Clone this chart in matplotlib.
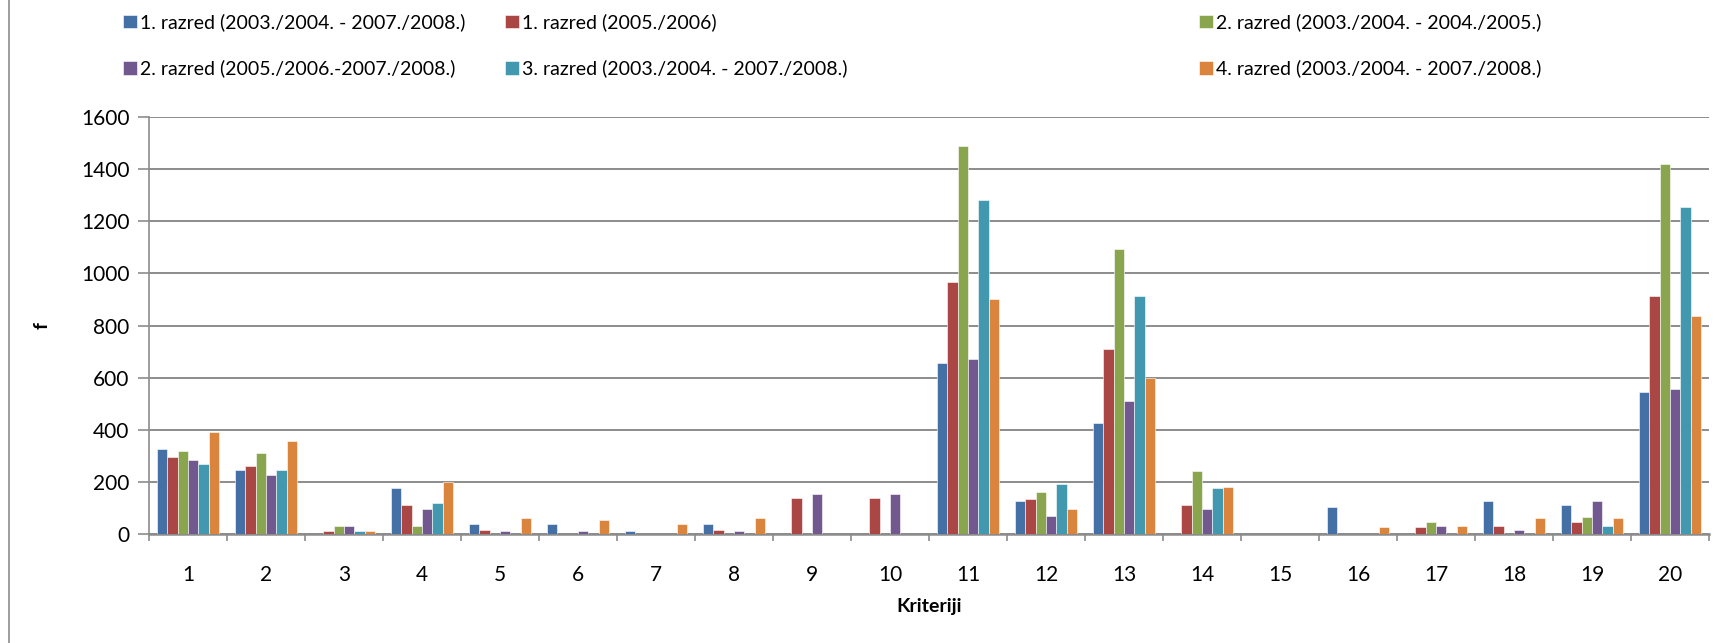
import matplotlib
matplotlib.use("Agg")
import numpy as np
import matplotlib.pyplot as plt
from matplotlib.lines import Line2D

plt.rcParams['font.family'] = ['Lato', 'DejaVu Sans']

kriteriji = [str(i) for i in range(1, 21)]

labels = ['1. razred (2003./2004. - 2007./2008.)',
          '1. razred (2005./2006)',
          '2. razred (2003./2004. - 2004./2005.)',
          '2. razred (2005./2006.-2007./2008.)',
          '3. razred (2003./2004. - 2007./2008.)',
          '4. razred (2003./2004. - 2007./2008.)']

r1_0308 = [325, 245, 0, 175, 40, 40, 10, 40, 0, 0, 655, 125, 425, 0, 0, 105, 0, 125, 110, 545]
r1_0506 = [295, 260, 10, 110, 15, 0, 0, 15, 140, 140, 965, 135, 710, 110, 0, 0, 25, 30, 45, 915]
r2_0305 = [318, 310, 30, 30, 0, 0, 0, 0, 0, 0, 1490, 160, 1095, 240, 0, 0, 45, 0, 65, 1420]
r2_0508 = [283, 225, 30, 95, 10, 10, 0, 10, 155, 155, 672, 68, 510, 95, 0, 0, 30, 15, 125, 555]
r3_0308 = [268, 245, 10, 118, 0, 0, 0, 0, 0, 0, 1280, 190, 914, 175, 0, 0, 0, 0, 30, 1255]
r4_0308 = [390, 355, 10, 200, 60, 55, 40, 60, 0, 0, 900, 95, 598, 180, 0, 25, 30, 60, 60, 835]

series = [r1_0308, r1_0506, r2_0305, r2_0508, r3_0308, r4_0308]
colors = ['#4470A6', '#AA4643', '#89A54E', '#71588F', '#4198AF', '#DB843D']

W, H = 1715, 643
fig = plt.figure(figsize=(W / 100, H / 100), dpi=100)
ax = fig.add_axes([149 / W, 1 - 534 / H, (1709 - 149) / W, (534 - 117) / H])

x = np.arange(1, len(kriteriji) + 1)
w = 0.8 / len(series)
for i, (vals, c) in enumerate(zip(series, colors)):
    ax.bar(x + (i - 2.5) * w, vals, width=w, color=c, edgecolor='white',
           linewidth=0.4, label=labels[i], zorder=3)

ax.set_xlim(0.5, 20.5)
ax.set_ylim(0, 1600)
ax.set_yticks(range(0, 1601, 200))
ax.set_xticks(x)
ax.set_xticklabels(kriteriji)
ax.set_xticks(np.arange(0.5, 21, 1), minor=True)
ax.grid(axis='y', color='#8c8c8c', linewidth=1.4, zorder=0)
ax.tick_params(axis='y', length=8, color='#8c8c8c', width=1.2, labelsize=15, pad=6)
ax.tick_params(axis='x', which='major', length=0, labelsize=15, pad=22)
ax.tick_params(axis='x', which='minor', length=5, color='#8c8c8c', width=1.2)
for s in ['top', 'right']:
    ax.spines[s].set_visible(False)
ax.spines['left'].set_color('#8c8c8c')
ax.spines['left'].set_linewidth(1.2)
ax.spines['bottom'].set_color('#8c8c8c')
ax.spines['bottom'].set_linewidth(1.8)

ax.set_xlabel('Kriteriji', fontsize=14, fontweight='bold', labelpad=10)
ax.set_ylabel('f', fontsize=14, fontweight='bold', labelpad=22)

# legend: three columns placed like the original
handles, labs = ax.get_legend_handles_labels()
col_x = [123, 505, 1199]
for j in range(3):
    fig.legend([handles[j], handles[j + 3]], [labs[j], labs[j + 3]],
               loc='center left', bbox_to_anchor=(col_x[j] / W, 1 - 45.5 / H),
               frameon=False, fontsize=14, handlelength=0.7, handleheight=0.7,
               handletextpad=0.15, labelspacing=1.45, borderpad=0, borderaxespad=0)

fig.add_artist(Line2D([9 / W, 9 / W], [0, 1], color='#8c8c8c', linewidth=1.2))

plt.savefig('out.png', dpi=100, facecolor='white')
